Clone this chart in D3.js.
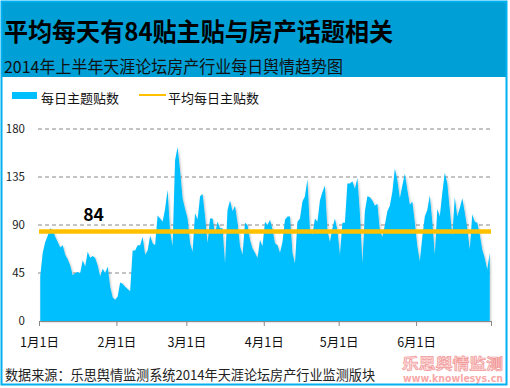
<!DOCTYPE html>
<html><head><meta charset="utf-8">
<script src="https://cdn.jsdelivr.net/npm/d3@7"></script>
<style>
html,body{margin:0;padding:0;background:#fff;}
svg{display:block;font-family:"Noto Sans CJK SC","Microsoft YaHei",sans-serif;}
</style></head><body>
<svg id="c" width="510" height="388"></svg>
<script>
const title = "平均每天有84贴主贴与房产话题相关";
const subtitle = "2014年上半年天涯论坛房产行业每日舆情趋势图";
const seriesName = "每日主题贴数";
const avgName = "平均每日主贴数";
const source = "数据来源：乐思舆情监测系统2014年天涯论坛房产行业监测版块";
const avgValue = 84;
const yTicks = [0, 45, 90, 135, 180];
const monthStarts = [[2014,0,1],[2014,1,1],[2014,2,1],[2014,3,1],[2014,4,1],[2014,5,1],[2014,6,1]];
const monthLabels = ["1月1日","2月1日","3月1日","4月1日","5月1日","6月1日",""];
// daily topic post counts, 2014-01-01 .. 2014-06-30
const dailyPosts = [
42,64,74,80,87,85,79,74,69,71,62,58,52,43,45,46,45,57,51,65,59,61,59,52,42,49,45,51,32,22,20,
23,36,35,32,30,28,66,66,71,71,79,62,66,80,73,71,99,96,93,105,123,84,70,151,163,141,115,105,
96,73,65,101,95,117,119,98,73,96,96,82,93,87,87,54,104,113,103,108,92,70,62,92,90,76,68,64,59,76,70,
93,90,95,86,73,71,64,74,95,98,98,64,54,93,96,112,117,133,85,81,96,93,113,121,127,85,74,87,96,85,
62,92,92,129,129,131,124,134,101,54,103,117,116,113,108,110,85,79,90,103,108,121,143,132,115,127,138,123,109,112,
92,70,56,79,98,104,118,93,62,105,98,120,139,129,104,80,116,98,106,115,102,87,67,100,93,92,81,67,59,48,64
];

const svg = d3.select("#c");
const defs = svg.append("defs");
const f = defs.append("filter").attr("id","sh").attr("x","-5%").attr("y","-5%").attr("width","110%").attr("height","110%");
f.append("feDropShadow").attr("dx",1).attr("dy",1).attr("stdDeviation",1).attr("flood-color","#000").attr("flood-opacity",0.25);

// header band
svg.append("rect").attr("x",2).attr("y",1).attr("width",505).attr("height",76).attr("fill","#009fd6");

svg.append("text").attr("x",4).attr("y",41).text(title)
  .attr("font-size",25).attr("font-weight","bold").attr("fill","#000")
  .attr("textLength",389).attr("lengthAdjust","spacingAndGlyphs");
svg.append("text").attr("x",4).attr("y",73).text(subtitle)
  .attr("font-size",16.5).attr("fill","#111")
  .attr("textLength",339).attr("lengthAdjust","spacingAndGlyphs");

// legend
svg.append("rect").attr("x",12).attr("y",92).attr("width",25).attr("height",7).attr("fill","#00bfff");
svg.append("text").attr("x",41).attr("y",103).text(seriesName).attr("font-size",13).attr("fill","#111")
  .attr("textLength",78).attr("lengthAdjust","spacingAndGlyphs");
svg.append("line").attr("x1",139).attr("x2",166).attr("y1",95).attr("y2",95).attr("stroke","#ffc000").attr("stroke-width",2);
svg.append("text").attr("x",168).attr("y",103).text(avgName).attr("font-size",13).attr("fill","#111")
  .attr("textLength",91).attr("lengthAdjust","spacingAndGlyphs");

const x = d3.scaleUtc()
  .domain([Date.UTC(2014,0,1), Date.UTC(2014,6,1)])
  .range([39, 491]);
const y = d3.scaleLinear().domain([0,180]).range([321,129]);

// gridlines
svg.append("g").selectAll("line").data(yTicks.filter(d=>d>0)).join("line")
  .attr("x1",38).attr("x2",491).attr("y1",d=>y(d)).attr("y2",d=>y(d))
  .attr("stroke","#888").attr("stroke-dasharray","4,3").attr("stroke-width",1);

// y labels
svg.append("g").selectAll("text").data(yTicks).join("text")
  .attr("x",25).attr("y",d=>y(d)+4).attr("text-anchor","end")
  .attr("font-size",11.5).attr("fill","#222").text(d=>d);

// area
const pts = dailyPosts.map((v,i)=>({t: Date.UTC(2014,0,1+i,12), v}));
const area = d3.area().x(d=>x(d.t)).y0(y(0)).y1(d=>y(d.v));
svg.append("path").datum(pts).attr("d",area).attr("fill","#05bfff").attr("filter","url(#sh)");

// x axis
const tickDates = monthStarts.map(a=>new Date(Date.UTC(a[0],a[1],a[2])));
const xAxis = d3.axisBottom(x).tickValues(tickDates)
  .tickFormat((d,i)=>monthLabels[i]).tickSize(5).tickSizeOuter(0);
const gx = svg.append("g").attr("transform","translate(0,321)").call(xAxis);
gx.select(".domain").attr("stroke","#888");
gx.selectAll(".tick line").attr("stroke","#888");
gx.selectAll(".tick text").attr("font-size",12.5).attr("fill","#111").attr("dy","1.45em")
  .attr("font-family","\"Noto Sans CJK SC\",sans-serif");

// average line
svg.append("line").attr("x1",x(x.domain()[0])).attr("x2",x(x.domain()[1]))
  .attr("y1",y(avgValue)).attr("y2",y(avgValue)).attr("stroke","#ffc000").attr("stroke-width",4.5);
svg.append("text").attr("x",93.5).attr("y",221).attr("text-anchor","middle")
  .attr("font-size",17.5).attr("font-weight","bold").attr("fill","#000").text(avgValue);

// footer
svg.append("text").attr("x",5).attr("y",380).text(source).attr("font-size",13.3).attr("fill","#222")
  .attr("textLength",370).attr("lengthAdjust","spacingAndGlyphs");
// watermark
svg.append("text").attr("x",402).attr("y",369).text("乐思舆情监测")
  .attr("font-size",15).attr("font-weight","bold").attr("fill","#fcdada").attr("stroke","#f29a9a").attr("stroke-width",0.7)
  .attr("textLength",101).attr("lengthAdjust","spacingAndGlyphs");
svg.append("text").attr("x",403).attr("y",382).text("www.knowlesys.cn")
  .attr("font-size",10.5).attr("font-weight","bold").attr("fill","#f7a9a9")
  .attr("font-family","\"Liberation Sans Narrow\",\"DejaVu Sans Condensed\",sans-serif")
  .attr("textLength",100).attr("lengthAdjust","spacingAndGlyphs");

// outer border
svg.append("rect").attr("x",1.5).attr("y",1.5).attr("width",505).attr("height",383)
  .attr("fill","none").attr("stroke","#00b0f0").attr("stroke-width",2);
</script></body></html>
